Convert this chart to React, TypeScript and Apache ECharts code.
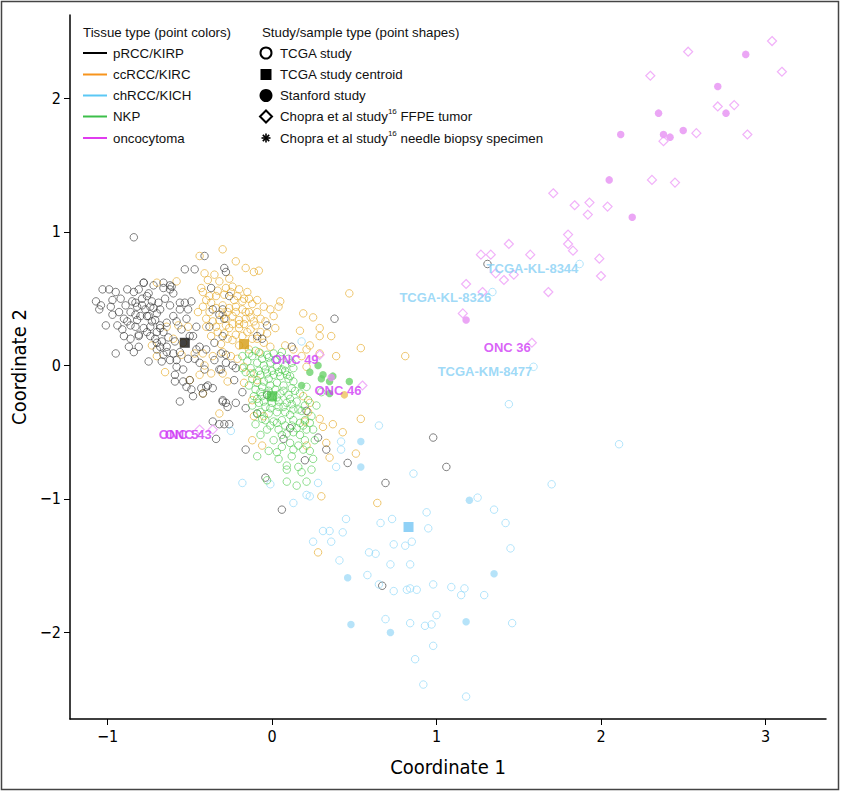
import React, { useEffect, useRef } from "react";
import * as echarts from "echarts";

// ---------- axes ----------
const xTicks = [-1, 0, 1, 2, 3];
const yTicks = [-2, -1, 0, 1, 2];
const xRange = [-1.228, 3.368];
const yRange = [-2.648, 2.625];

// ---------- legend ----------
const tissueNames = ["pRCC/KIRP", "ccRCC/KIRC", "chRCC/KICH", "NKP", "oncocytoma"];
const tissueLegendColors = ["#000000", "#F7941D", "#5BC8F5", "#3CBF4A", "#E03CEF"];
const shapeNames = [
  "TCGA study",
  "TCGA study centroid",
  "Stanford study",
  "{n|Chopra et al study}{s|16}{n| FFPE tumor}",
  "{n|Chopra et al study}{s|16}{n| needle biopsy specimen}",
];

// ---------- data: pRCC/KIRP (TCGA) ----------
const kirpTcga = [
  [-0.84, 0.96], [-0.41, 0.82], [-0.53, 0.72], [-0.47, 0.72], [-0.29, 0.73], [-0.28, 0.70], [-1.03, 0.57], [-0.99, 0.57],
  [-1.07, 0.48], [-1.04, 0.45], [-1.05, 0.42], [-0.97, 0.49], [-0.98, 0.44], [-0.97, 0.38], [-1.01, 0.30], [-0.95, 0.09],
  [-0.90, 0.22], [-0.87, 0.14], [-0.81, 0.14], [-0.88, 0.57], [-0.81, 0.57], [-0.78, 0.62], [-0.72, 0.60], [-0.66, 0.62],
  [-0.61, 0.59], [-0.62, 0.57], [-0.85, 0.48], [-0.82, 0.44], [-0.86, 0.30], [-0.83, 0.29], [-0.80, 0.37], [-0.75, 0.37],
  [-0.74, 0.29], [-0.70, 0.25], [-0.68, 0.30], [-0.72, 0.43], [-0.68, 0.42], [-0.65, 0.50], [-0.76, 0.52], [-0.81, 0.22],
  [-0.74, 0.22], [-0.70, 0.17], [-0.68, 0.14], [-0.75, 0.03], [-0.67, 0.03], [-0.64, 0.10], [-0.59, 0.18], [-0.58, -0.01],
  [-0.59, -0.07], [-0.59, -0.12], [-0.54, -0.12], [-0.52, -0.16], [-0.49, -0.18], [-0.56, -0.27], [-0.48, -0.23], [-0.42, -0.21],
  [-0.40, -0.16], [-0.36, -0.17], [-0.56, 0.47], [-0.53, 0.47], [-0.51, 0.42], [-0.49, 0.48], [-0.46, 0.29], [-0.48, 0.22],
  [-0.44, 0.14], [-0.40, 0.12], [-0.35, 0.17], [-0.37, 0.58], [-0.36, 0.42], [-0.30, 0.42], [-0.29, 0.35], [-0.30, 0.22],
  [-0.31, 0.09], [-0.28, 0.08], [-0.31, -0.03], [-0.24, 0.00], [-0.22, -0.02], [-0.23, -0.11], [-0.18, -0.20], [-0.30, -0.26],
  [-0.28, -0.28], [-0.16, -0.32], [-0.03, 0.30], [-0.09, 0.22], [-0.06, 0.20], [0.12, 0.14], [0.38, 0.35], [-0.36, -0.42],
  [-0.32, -0.44], [-0.29, -0.44], [-0.26, -0.44], [-0.34, -0.55], [-0.16, -0.63], [-0.04, -0.84], [0.11, -0.47], [0.07, -0.55],
  [0.21, -0.34], [0.28, -0.54], [0.20, -0.71], [0.33, -0.63], [0.46, -0.73], [0.69, -0.88], [0.98, -0.54], [1.31, 0.76],
  [1.06, -0.76], [0.06, -1.08], [0.67, -1.65],
  [-0.84, 0.55], [-0.78, 0.62], [-0.75, 0.54], [-0.83, 0.47], [-0.79, 0.45], [-0.74, 0.44], [-0.69, 0.47], [-0.66, 0.58],
  [-0.62, 0.60], [-0.60, 0.54], [-0.82, 0.34], [-0.76, 0.37], [-0.71, 0.34], [-0.68, 0.28], [-0.64, 0.32], [-0.60, 0.37],
  [-0.56, 0.42], [-0.81, 0.23], [-0.67, 0.18], [-0.64, 0.14], [-0.60, 0.09], [-0.66, 0.08], [-0.70, 0.12], [-0.58, 0.04],
  [-0.51, 0.05], [-0.46, 0.12], [-0.44, 0.02], [-0.41, -0.03], [-0.35, 0.04], [-0.32, -0.03], [-0.28, 0.02], [-0.54, -0.03],
  [-0.50, -0.11], [-0.43, -0.17], [-0.39, -0.15], [-0.30, -0.27], [-0.27, -0.31], [-0.22, -0.28], [-0.09, -0.36], [-0.03, -0.22],
  [-0.38, 0.29], [-0.32, 0.38], [-0.26, 0.52],
  [-0.95, 0.55], [-0.92, 0.50], [-0.89, 0.45], [-0.93, 0.40], [-0.90, 0.35], [-0.94, 0.30], [-0.91, 0.27], [-0.86, 0.40],
  [-0.79, 0.50], [-0.77, 0.42], [-0.73, 0.48], [-0.70, 0.39], [-0.73, 0.33], [-0.78, 0.28], [-0.76, 0.25], [-0.71, 0.20],
  [-0.66, 0.25], [-0.63, 0.21], [-0.62, 0.45], [-0.58, 0.33], [-0.55, 0.27], [-0.52, 0.35], [-0.50, 0.22], [-0.47, 0.05],
  [-0.56, 0.10], [-0.62, 0.04], [-0.86, 0.20], [-0.84, 0.10], [-0.88, 0.33], [-0.83, 0.38],
];

// ---------- data: ccRCC/KIRC (TCGA) ----------
const kircTcga = [
  [-0.30, 0.87], [-0.44, 0.82], [-0.22, 0.78], [-0.16, 0.73], [-0.11, 0.70], [-0.08, 0.71], [-0.41, 0.69], [-0.39, 0.64],
  [-0.35, 0.68], [-0.32, 0.63], [-0.26, 0.65], [-0.58, 0.63], [-0.70, 0.62], [-0.43, 0.58], [-0.28, 0.58], [-0.24, 0.59],
  [-0.20, 0.57], [-0.15, 0.55], [-0.14, 0.50], [-0.09, 0.49], [-0.05, 0.44], [0.05, 0.48], [0.04, 0.44], [-0.01, 0.42],
  [0.01, 0.37], [0.19, 0.39], [0.25, 0.36], [0.29, 0.28], [0.29, 0.22], [0.36, 0.22], [0.47, 0.54], [0.54, 0.13],
  [0.39, 0.07], [0.08, 0.15], [0.13, 0.12], [-0.01, 0.14], [-0.40, 0.49], [-0.37, 0.47], [-0.34, 0.52], [-0.23, 0.49],
  [-0.22, 0.44], [-0.18, 0.48], [-0.16, 0.40], [-0.24, 0.37], [-0.32, 0.34], [-0.34, 0.29], [-0.40, 0.29], [-0.26, 0.28],
  [-0.20, 0.28], [-0.15, 0.25], [-0.10, 0.30], [-0.07, 0.25], [-0.24, 0.19], [-0.37, 0.22], [-0.36, 0.07], [-0.42, 0.09],
  [-0.47, 0.09], [-0.54, 0.17], [-0.51, 0.29], [-0.57, 0.30], [-0.64, 0.29], [-0.73, 0.15], [-0.65, -0.05], [-0.70, 0.07],
  [-0.41, 0.00], [-0.37, -0.06], [-0.30, -0.06], [-0.27, -0.12], [-0.44, -0.07], [-0.50, -0.11], [-0.42, -0.21], [-0.17, -0.01],
  [-0.13, -0.06], [-0.17, -0.13], [-0.09, -0.11], [-0.32, -0.36], [-0.11, -0.38], [-0.12, -0.56], [-0.06, -0.60], [0.18, 0.07],
  [0.21, -0.01], [0.29, 0.09], [0.23, -0.28], [0.22, -0.35], [0.29, -0.40], [0.31, -0.46], [0.37, -0.44], [0.43, -0.50],
  [0.54, -0.40], [0.21, -0.60], [0.33, -0.58], [0.35, -0.69], [0.51, -0.66], [0.30, -0.98], [-0.05, -0.38], [-0.12, -0.26],
  [0.81, 0.07], [0.17, 0.26], [0.23, 0.15], [0.21, 0.12], [0.19, -0.23], [0.20, -0.42], [0.64, -1.03], [0.28, -1.40],
  [-0.30, 0.45], [-0.27, 0.40], [-0.20, 0.34], [-0.13, 0.36], [-0.09, 0.40], [-0.04, 0.33], [-0.28, 0.30], [-0.17, 0.31],
  [-0.12, 0.20], [-0.05, 0.17], [-0.45, 0.40], [-0.60, 0.20], [-0.55, 0.08],
  [-0.42, 0.55], [-0.38, 0.52], [-0.33, 0.56], [-0.29, 0.53], [-0.25, 0.55], [-0.21, 0.52], [-0.17, 0.50], [-0.12, 0.46],
  [-0.42, 0.44], [-0.38, 0.40], [-0.34, 0.43], [-0.30, 0.38], [-0.26, 0.43], [-0.22, 0.40], [-0.18, 0.42], [-0.14, 0.40],
  [-0.40, 0.35], [-0.36, 0.33], [-0.28, 0.35], [-0.24, 0.31], [-0.20, 0.31], [-0.16, 0.35], [-0.11, 0.33], [-0.07, 0.35],
  [-0.33, 0.25], [-0.29, 0.24], [-0.22, 0.23], [-0.18, 0.22], [-0.13, 0.27], [-0.09, 0.20], [-0.03, 0.24], [0.02, 0.28],
  [-0.31, 0.16], [-0.27, 0.20], [-0.20, 0.15], [-0.14, 0.12], [-0.08, 0.10], [-0.30, 0.10], [-0.25, 0.07], [-0.21, 0.05],
];

// ---------- data: chRCC/KICH (TCGA) ----------
const kichTcga = [
  [1.44, -0.29], [0.65, -0.45], [0.42, -0.57], [0.42, -0.63], [0.39, -0.76], [2.11, -0.59], [0.86, -0.81], [0.28, -0.88],
  [1.70, -0.89], [0.21, -0.97], [0.23, -0.98], [0.13, -1.03], [1.25, -0.99], [1.35, -1.08], [0.94, -1.10], [1.42, -1.18],
  [0.45, -1.15], [0.73, -1.15], [0.66, -1.18], [0.95, -1.22], [0.31, -1.24], [0.35, -1.24], [0.43, -1.25], [0.25, -1.32],
  [0.36, -1.32], [0.74, -1.34], [0.81, -1.35], [0.85, -1.32], [1.45, -1.37], [0.59, -1.40], [0.63, -1.41], [0.41, -1.46],
  [0.72, -1.49], [0.84, -1.49], [0.58, -1.57], [0.65, -1.64], [0.74, -1.69], [0.82, -1.68], [0.84, -1.67], [0.88, -1.68],
  [0.98, -1.64], [1.09, -1.66], [1.17, -1.67], [1.15, -1.72], [1.29, -1.72], [1.00, -1.87], [0.69, -1.90], [0.84, -1.93],
  [0.93, -1.95], [0.97, -1.94], [1.46, -1.93], [0.98, -2.10], [0.87, -2.20], [0.92, -2.39], [1.18, -2.48], [0.18, 0.18],
  [-0.25, -0.49], [-0.18, -0.88], [-0.01, -0.89],
];
const kichLabeled = [[1.87, 0.76], [1.34, 0.55], [1.59, -0.01]];
const kichLabelNames = ["TCGA-KL-8344", "TCGA-KL-8326", "TCGA-KM-8477"];

// ---------- data: NKP (TCGA) ----------
const nkpTcga = [
  [-0.18, -0.02], [-0.12, 0.07], [-0.07, 0.09], [-0.03, 0.08], [0.01, 0.09], [0.05, 0.07], [-0.09, 0.02], [-0.05, 0.00],
  [-0.01, 0.02], [0.03, -0.01], [0.08, 0.00], [0.13, -0.02], [-0.11, -0.06], [-0.07, -0.07], [-0.03, -0.06], [0.01, -0.07],
  [0.05, -0.08], [0.09, -0.07], [-0.09, -0.13], [-0.05, -0.12], [-0.01, -0.15], [0.03, -0.13], [0.07, -0.15], [0.12, -0.17],
  [-0.07, -0.20], [-0.03, -0.21], [0.05, -0.21], [0.10, -0.22], [-0.05, -0.27], [0.00, -0.28], [0.04, -0.27], [0.09, -0.28],
  [-0.07, -0.35], [-0.02, -0.36], [0.03, -0.35], [0.13, -0.33], [-0.09, -0.36], [0.01, -0.42], [0.06, -0.41], [0.13, -0.41],
  [0.20, -0.41], [-0.03, -0.48], [0.04, -0.48], [0.09, -0.51], [0.13, -0.50], [0.17, -0.52], [0.21, -0.48], [-0.07, -0.52],
  [0.01, -0.56], [0.11, -0.58], [0.16, -0.60], [0.19, -0.63], [0.13, -0.63], [-0.09, -0.68], [0.03, -0.65], [0.09, -0.75],
  [0.16, -0.76], [0.09, -0.78], [0.21, -0.87], [0.15, -0.90], [0.09, -0.87], [0.25, -0.48], [0.26, -0.56], [0.13, -0.12],
  [0.17, -0.21], [0.22, -0.26], [0.21, -0.16], [-0.18, 0.07], [-0.15, 0.03], [-0.13, -0.02], [-0.11, -0.23], [-0.08, -0.28],
  [-0.04, -0.41], [-0.03, -0.86], [-0.02, -0.10], [0.02, -0.18], [0.06, -0.03], [-0.06, -0.16], [0.10, -0.10], [0.00, -0.24],
  [0.07, -0.31], [-0.04, -0.31], [0.15, -0.27], [0.11, -0.37], [0.18, -0.34], [0.24, -0.38], [0.20, -0.56], [0.06, -0.61],
  [-0.02, -0.64], [0.12, -0.45], [-0.10, -0.44], [0.17, -0.43], [0.27, -0.30], [0.30, -0.20],
  [-0.14, 0.09], [-0.10, 0.11], [-0.06, 0.05], [-0.02, 0.06], [0.02, 0.04], [0.06, 0.10], [0.10, 0.05], [0.12, 0.02],
  [-0.16, -0.05], [-0.12, -0.10], [-0.08, -0.04], [-0.04, -0.03], [0.00, -0.04], [0.04, -0.05], [0.08, -0.04], [0.11, -0.08],
  [-0.14, -0.15], [-0.10, -0.18], [-0.06, -0.23], [-0.02, -0.19], [0.03, -0.24], [0.07, -0.19], [0.11, -0.25], [0.14, -0.19],
  [-0.12, -0.30], [-0.09, -0.25], [-0.01, -0.32], [0.04, -0.31], [0.08, -0.35], [0.12, -0.29], [0.16, -0.33], [0.20, -0.30],
  [-0.06, -0.40], [-0.01, -0.45], [0.03, -0.43], [0.08, -0.45], [0.15, -0.47], [0.19, -0.45], [0.23, -0.43], [0.06, -0.52],
  [0.04, -0.70], [0.12, -0.68], [0.23, -0.64], [0.25, -0.70], [0.18, -0.80], [0.24, -0.78],
];

// ---------- Stanford study (filled circles) ----------
const kircStanford = [[0.44, -0.22]];
const kichStanford = [[0.54, -0.57], [0.54, -0.76], [1.20, -1.01], [1.35, -1.56], [0.46, -1.59], [0.48, -1.94], [0.72, -2.00], [1.18, -1.92]];
const nkpStanford = [[0.23, -0.05], [0.28, 0.00], [0.31, -0.07], [0.30, -0.10], [0.35, -0.12], [0.18, -0.15], [0.35, -0.21], [0.47, -0.12], [0.37, -0.08]];
const oncStanford = [
  [2.88, 2.33], [2.71, 2.09], [2.35, 1.89], [2.76, 1.89], [2.12, 1.73], [2.38, 1.73], [2.42, 1.71], [2.50, 1.76],
  [2.05, 1.39], [2.19, 1.11], [1.18, 0.34], [0.36, -0.09],
];

// ---------- Chopra et al FFPE tumor (diamonds) ----------
const oncChopra = [
  [3.04, 2.43], [2.53, 2.35], [2.30, 2.17], [3.10, 2.20], [2.71, 1.94], [2.81, 1.95], [2.58, 1.74], [2.89, 1.73],
  [2.38, 1.68], [2.31, 1.39], [2.45, 1.37], [1.71, 1.29], [1.84, 1.20], [1.93, 1.22], [2.04, 1.19], [1.92, 1.13],
  [1.80, 0.98], [1.80, 0.91], [1.83, 0.86], [1.44, 0.91], [1.27, 0.83], [1.33, 0.83], [1.57, 0.83], [1.99, 0.80],
  [2.00, 0.67], [1.36, 0.69], [1.41, 0.64], [1.47, 0.68], [1.68, 0.55], [1.18, 0.61], [1.28, 0.55], [1.16, 0.39],
];
const oncLabeled = [[1.58, 0.17], [0.55, -0.15], [0.29, 0.08], [-0.44, -0.48], [-0.36, -0.48]];
const oncLabelNames = ["ONC 36", "ONC 46", "ONC 49", "ONC 5", "ONC 43"];

// ---------- TCGA centroids ----------
const kirpCentroid = [[-0.53, 0.17]];
const kircCentroid = [[-0.17, 0.16]];
const kichCentroid = [[0.83, -1.21]];
const nkpCentroid = [[0.0, -0.23]];

const narrowFont = "'Liberation Sans Narrow', 'DejaVu Sans Condensed', 'Roboto Condensed', sans-serif";
const legendFont = "'Liberation Sans', Arial, sans-serif";
const labelFont = "'Liberation Sans', Arial, sans-serif";

function openSeries(name: string, data: any[], stroke: string) {
  return {
    name, type: "scatter", data, symbol: "circle", symbolSize: 7.5,
    itemStyle: { color: "rgba(255,255,255,0)", borderColor: stroke, borderWidth: 1 },
    emphasis: { disabled: true },
  };
}
function filledSeries(name: string, data: number[][], fill: string, symbol = "circle", size = 7.5) {
  return {
    name, type: "scatter", data, symbol, symbolSize: size,
    itemStyle: { color: fill }, emphasis: { disabled: true },
  };
}
function labeledData(points: number[][], names: string[]) {
  return points.map((p, i) => ({ value: p, label: { formatter: names[i] } }));
}

function buildLegend() {
  const g: any[] = [];
  const fs = 13.3;
  const rowY = [53, 74.5, 95.5, 116.5, 138];
  g.push({ type: "text", x: 83, y: 32, style: { text: "Tissue type (point colors)", fill: "#111", fontSize: fs, fontFamily: legendFont, verticalAlign: "middle" } });
  g.push({ type: "text", x: 262, y: 32, style: { text: "Study/sample type (point shapes)", fill: "#111", fontSize: fs, fontFamily: legendFont, verticalAlign: "middle" } });
  tissueNames.forEach((t, i) => {
    g.push({ type: "line", shape: { x1: 83, y1: rowY[i], x2: 107, y2: rowY[i] }, style: { stroke: tissueLegendColors[i], lineWidth: 2 } });
    g.push({ type: "text", x: 113, y: rowY[i], style: { text: t, fill: "#111", fontSize: fs, fontFamily: legendFont, verticalAlign: "middle" } });
  });
  const cx = 266;
  g.push({ type: "circle", shape: { cx, cy: rowY[0], r: 5.5 }, style: { fill: "#fff", stroke: "#000", lineWidth: 2 } });
  g.push({ type: "rect", shape: { x: cx - 5.5, y: rowY[1] - 5.5, width: 11, height: 11 }, style: { fill: "#000" } });
  g.push({ type: "circle", shape: { cx, cy: rowY[2], r: 6.5 }, style: { fill: "#000" } });
  g.push({ type: "polygon", shape: { points: [[cx, rowY[3] - 6], [cx + 6, rowY[3]], [cx, rowY[3] + 6], [cx - 6, rowY[3]]] }, style: { fill: "#fff", stroke: "#000", lineWidth: 2 } });
  [0, 45, 90, 135].forEach((a) => {
    const r = (a * Math.PI) / 180;
    const dx = Math.cos(r) * 4.5, dy = Math.sin(r) * 4.5;
    g.push({ type: "line", shape: { x1: cx - dx, y1: rowY[4] - dy, x2: cx + dx, y2: rowY[4] + dy }, style: { stroke: "#000", lineWidth: 1.6 } });
  });
  shapeNames.forEach((t, i) => {
    g.push({
      type: "text", x: 280, y: rowY[i],
      style: {
        text: t, fill: "#111", fontSize: fs, fontFamily: legendFont, verticalAlign: "middle",
        rich: { n: { fontSize: fs, lineHeight: 18, fontFamily: legendFont, fill: "#111" }, s: { fontSize: 8, lineHeight: 8, verticalAlign: "top", fontFamily: legendFont, fill: "#111" } },
      },
    });
  });
  g.push({ type: "rect", shape: { x: 1.5, y: 1.5, width: 837, height: 788 }, style: { fill: "none", stroke: "#444", lineWidth: 1.5 }, z: 100 });
  return g;
}

const minus = (v: number) => (v < 0 ? "\u2212" + Math.abs(v) : String(v));

export default function App() {
  const ref = useRef<HTMLDivElement>(null);
  useEffect(() => {
    const chart = echarts.init(ref.current as HTMLDivElement, null, { renderer: "svg", width: 841, height: 791 });
    const option: any = {
      animation: false,
      backgroundColor: "#fff",
      grid: { left: 70, right: 15, top: 15, bottom: 72 },
      xAxis: {
        type: "value", min: xRange[0], max: xRange[1],
        splitLine: { show: false },
        axisLine: { show: true, onZero: false, lineStyle: { color: "#000", width: 1.5 } },
        axisTick: { show: true, length: 6, customValues: xTicks, lineStyle: { color: "#000", width: 1 } },
        axisLabel: { customValues: xTicks, formatter: minus, fontSize: 16, fontFamily: narrowFont, color: "#000", margin: 9 },
        name: "Coordinate 1", nameLocation: "middle", nameGap: 38,
        nameTextStyle: { fontSize: 20, fontFamily: narrowFont, color: "#000" },
      },
      yAxis: {
        type: "value", min: yRange[0], max: yRange[1],
        splitLine: { show: false },
        axisLine: { show: true, onZero: false, lineStyle: { color: "#000", width: 1.5 } },
        axisTick: { show: true, length: 6, customValues: yTicks, lineStyle: { color: "#000", width: 1 } },
        axisLabel: { customValues: yTicks, formatter: minus, fontSize: 16, fontFamily: narrowFont, color: "#000", margin: 9 },
        name: "Coordinate 2", nameLocation: "middle", nameGap: 35,
        nameTextStyle: { fontSize: 20, fontFamily: narrowFont, color: "#000" },
      },
      graphic: buildLegend(),
      series: [
        openSeries("ccRCC/KIRC", kircTcga, "rgba(228,168,35,0.8)"),
        openSeries("pRCC/KIRP", kirpTcga, "rgba(45,45,45,0.75)"),
        openSeries("chRCC/KICH", kichTcga, "rgba(130,212,248,0.75)"),
        {
          ...openSeries("chRCC/KICH labeled", labeledData(kichLabeled, kichLabelNames), "rgba(130,212,248,0.75)"),
          label: { show: true, position: "left", distance: 0, offset: [3, 5], color: "#86D0F5", fontWeight: "bold", fontSize: 13, fontFamily: labelFont },
        },
        openSeries("NKP", nkpTcga, "rgba(70,200,70,0.75)"),
        filledSeries("ccRCC/KIRC Stanford", kircStanford, "#EEC25E"),
        filledSeries("chRCC/KICH Stanford", kichStanford, "#A4DCF7"),
        filledSeries("NKP Stanford", nkpStanford, "#6CD26C"),
        filledSeries("oncocytoma Stanford", oncStanford, "#E690F2"),
        {
          name: "oncocytoma Chopra", type: "scatter", data: oncChopra, symbol: "diamond", symbolSize: 9,
          itemStyle: { color: "rgba(255,255,255,0)", borderColor: "#EE9EF7", borderWidth: 1.2 }, emphasis: { disabled: true },
        },
        {
          name: "oncocytoma Chopra labeled", type: "scatter", data: labeledData(oncLabeled, oncLabelNames), symbol: "diamond", symbolSize: 9,
          itemStyle: { color: "rgba(255,255,255,0)", borderColor: "#EE9EF7", borderWidth: 1.2 }, emphasis: { disabled: true },
          label: { show: true, position: "left", distance: 0, offset: [4, 5], color: "#CF3BF5", fontWeight: "bold", fontSize: 13, fontFamily: labelFont },
        },
        filledSeries("pRCC/KIRP centroid", kirpCentroid, "#111111", "rect", 10),
        filledSeries("ccRCC/KIRC centroid", kircCentroid, "#D59B12", "rect", 10),
        filledSeries("chRCC/KICH centroid", kichCentroid, "#74C6F4", "rect", 10),
        filledSeries("NKP centroid", nkpCentroid, "#4CC44C", "rect", 10),
      ],
    };
    chart.setOption(option);
    return () => chart.dispose();
  }, []);
  return <div ref={ref} style={{ position: "absolute", left: 0, top: 0, width: 841, height: 791, background: "#fff" }} />;
}
